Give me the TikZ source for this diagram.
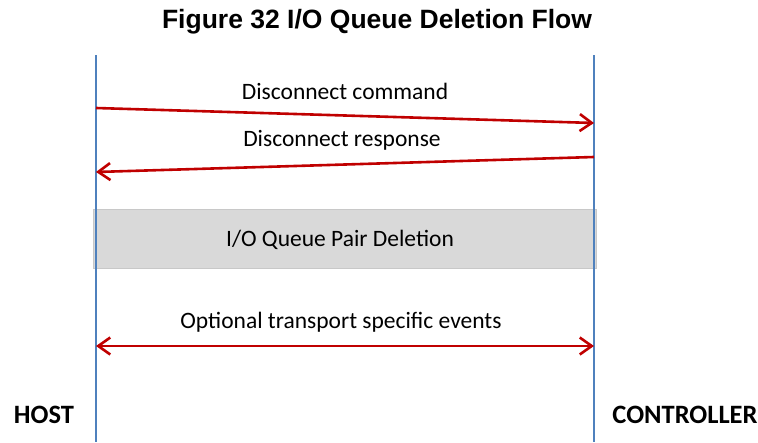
\documentclass[tikz,border=0pt]{standalone}
\usepackage{fontspec}
\setmainfont{Carlito}
\newfontfamily\titlefont{Liberation Sans}
\usetikzlibrary{arrows.meta}
\definecolor{lifeblue}{HTML}{4F81BD}
\definecolor{msgred}{HTML}{C00000}
\definecolor{boxfill}{HTML}{D9D9D9}
\definecolor{boxedge}{HTML}{C8C8C8}
\tikzset{
  msgtip/.tip={Straight Barb[length=12pt,width=17pt,line width=2.6pt]},
  lifeline/.style={draw=lifeblue, line width=2.6pt},
  msg/.style={draw=msgred, line width=2.6pt, -{msgtip}},
  bimsg/.style={draw=msgred, line width=2.6pt, {msgtip}-{msgtip}},
  msglabel/.style={font=\fontsize{23.5}{27}\selectfont, inner sep=0pt},
  party/.style={font=\fontsize{26.5}{30}\selectfont\bfseries, inner sep=0pt},
  stagebox/.style={fill=boxfill, draw=boxedge, line width=1.5pt}
}
\begin{document}
\begin{tikzpicture}[x=1pt,y=-1pt]
  \useasboundingbox (0,0) rectangle (758,442);

  % title
  \node[font=\titlefont\fontsize{26.5}{30}\selectfont\bfseries, inner sep=0pt] (title) at (377,22) {Figure 32 I/O Queue Deletion Flow};

  % lifelines
  \coordinate (hostTop) at (96,55);
  \coordinate (hostBot) at (96,442);
  \coordinate (ctrlTop) at (594,55);
  \coordinate (ctrlBot) at (594,442);

  % deletion stage box
  \node[stagebox, minimum width=503pt, minimum height=59pt, inner sep=0pt] (stage) at (345,239) {};
  \node[msglabel] (stageText) at (340,240) {I/O Queue Pair Deletion};

  \draw[lifeline] (hostTop) -- (hostBot);
  \draw[lifeline] (ctrlTop) -- (ctrlBot);

  % messages
  \coordinate (cmdFrom) at (96,108);
  \coordinate (cmdTo) at (594,123);
  \coordinate (rspFrom) at (594,157);
  \coordinate (rspTo) at (96,172);
  \coordinate (optL) at (96,346);
  \coordinate (optR) at (594,346);

  \draw[msg] (cmdFrom) -- (cmdTo);
  \draw[msg] (rspFrom) -- (rspTo);
  \draw[bimsg] (optL) -- (optR);

  \node[msglabel] (cmdText) at (345,91) {Disconnect command};
  \node[msglabel] (rspText) at (342,140) {Disconnect response};
  \node[msglabel] (optText) at (341,322) {Optional transport specific events};

  % parties
  \node[party] (host) at (44,415) {HOST};
  \node[party] (ctrl) at (685,415) {CONTROLLER};
\end{tikzpicture}
\end{document}
